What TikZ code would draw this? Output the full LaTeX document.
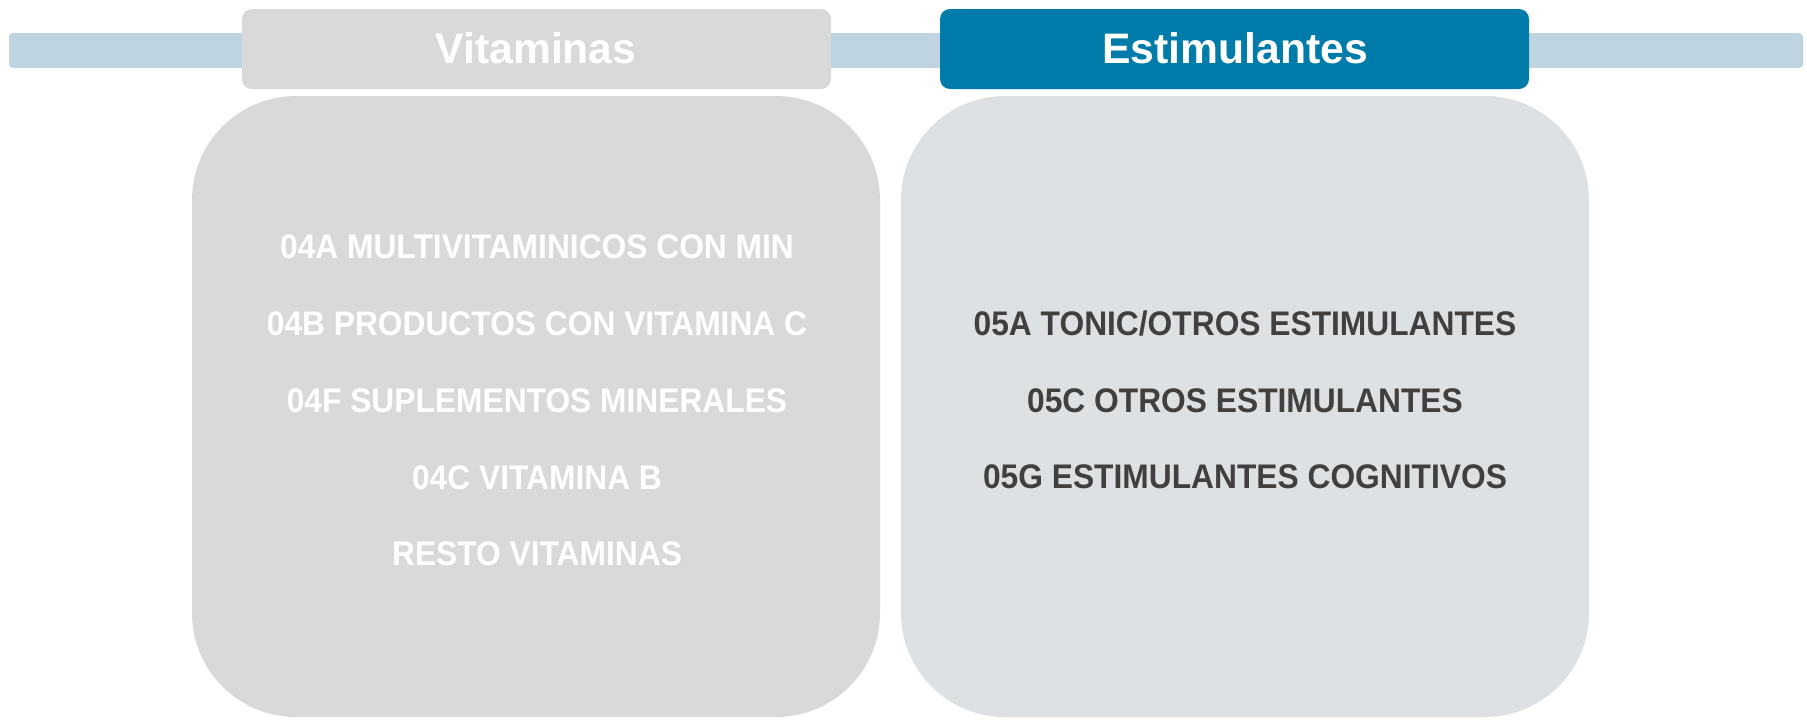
\documentclass[tikz,border=0pt]{standalone}
\usepackage{fontspec}
\setmainfont{Liberation Sans}
\newfontfamily\itemfont[FakeStretch=0.93]{Liberation Sans}
\definecolor{barblue}{HTML}{BED5E1}
\definecolor{headgrey}{HTML}{D9D9D9}
\definecolor{headblue}{HTML}{007BAA}
\definecolor{bodygrey}{HTML}{D9D9D9}
\definecolor{bodylight}{HTML}{DEE1E3}
\definecolor{darktext}{HTML}{404040}
\begin{document}
\begin{tikzpicture}[x=0.75pt,y=-0.75pt,
  headbox/.style={rectangle,rounded corners=7.5pt,minimum width=589*0.75pt,minimum height=80*0.75pt,inner sep=0pt},
  bodybox/.style={rectangle,rounded corners=78pt,minimum width=688*0.75pt,minimum height=621*0.75pt,inner sep=0pt},
  headtext/.style={anchor=base,text=white,font=\fontsize{32}{38}\selectfont\bfseries,inner sep=0pt},
  itemtext/.style={anchor=base,font=\itemfont\fontsize{25.6}{30}\selectfont\bfseries,inner sep=0pt}]
\useasboundingbox (0,0) rectangle (1807,721);
\node[rectangle,rounded corners=3pt,fill=barblue,minimum width=1794*0.75pt,minimum height=35*0.75pt,inner sep=0pt] (bar) at (906,50.5) {};
\node[headbox,fill=headgrey] (vithead) at (536.5,49) {};
\node[headbox,fill=headblue] (esthead) at (1234.5,49) {};
\node[headtext] (vitlabel) at (536,63.5) {Vitaminas};
\node[headtext] (estlabel) at (1235,63.5) {Estimulantes};
\node[bodybox,fill=bodygrey] (vitbody) at (536,406.5) {};
\node[bodybox,fill=bodylight] (estbody) at (1245,406.5) {};
\node[itemtext,text=white] (v1) at (537,258) {04A MULTIVITAMINICOS CON MIN};
\node[itemtext,text=white] (v2) at (537,335) {04B PRODUCTOS CON VITAMINA C};
\node[itemtext,text=white] (v3) at (537,412) {04F SUPLEMENTOS MINERALES};
\node[itemtext,text=white] (v4) at (537,489) {04C VITAMINA B};
\node[itemtext,text=white] (v5) at (537,565) {RESTO VITAMINAS};
\node[itemtext,text=darktext] (e1) at (1245,335) {05A TONIC/OTROS ESTIMULANTES};
\node[itemtext,text=darktext] (e2) at (1245,412) {05C OTROS ESTIMULANTES};
\node[itemtext,text=darktext] (e3) at (1245,488) {05G ESTIMULANTES COGNITIVOS};
\end{tikzpicture}
\end{document}
